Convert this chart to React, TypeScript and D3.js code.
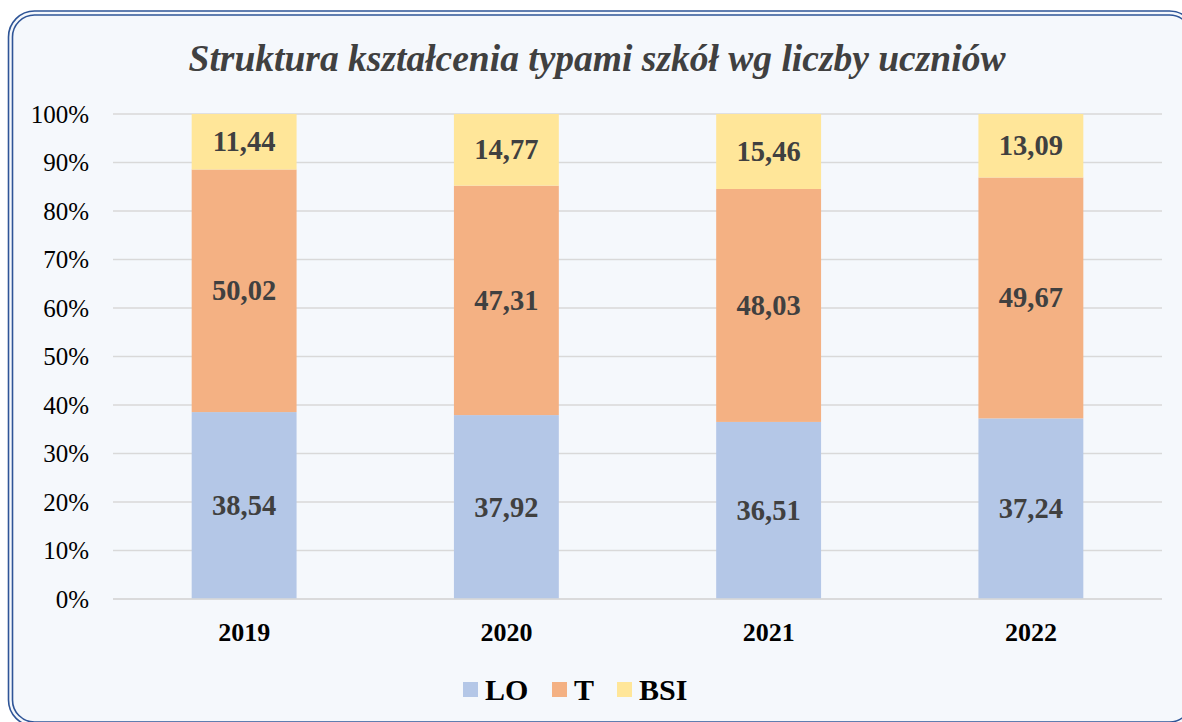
import React from "react";
import * as d3 from "d3";

const categories = ["2019", "2020", "2021", "2022"];
const seriesNames = ["LO", "T", "BSI"];
const loValues = [38.54, 37.92, 36.51, 37.24];
const tValues = [50.02, 47.31, 48.03, 49.67];
const bsiValues = [11.44, 14.77, 15.46, 13.09];
const yTicks = [0, 10, 20, 30, 40, 50, 60, 70, 80, 90, 100];
const colors = ["#B4C7E7", "#F4B183", "#FFE699"];

const W = 1182, H = 722;
const left = 113, right = 1162, top = 114, bottom = 599;
const font = "'Liberation Serif', 'Times New Roman', serif";

export default function App() {
  const x = d3.scaleBand<string>().domain(categories).range([left, right]).paddingInner(0.6).paddingOuter(0.3);
  const y = d3.scaleLinear().domain([0, 100]).range([bottom, top]);
  const rows = categories.map((c, i) => ({ cat: c, LO: loValues[i], T: tValues[i], BSI: bsiValues[i] }));
  const stacked = d3.stack<any>().keys(seriesNames)(rows);
  const fmt = (v: number) => v.toFixed(2).replace(".", ",");

  const legendItems = [
    { name: "LO", x: 463 },
    { name: "T", x: 552 },
    { name: "BSI", x: 617 },
  ];

  return (
    <svg width={W} height={H} style={{ position: "absolute", left: 0, top: 0, display: "block" }}>
      <rect x={0} y={0} width={W} height={H} fill="#ffffff" />
      <rect x={8.5} y={11} width={1187} height={715} rx={26} ry={26} fill="#F5F8FC" stroke="#2F5597" strokeWidth={1.6} />
      <rect x={12.5} y={15} width={1179} height={707} rx={22} ry={22} fill="none" stroke="#2F5597" strokeWidth={1.6} />
      <text x={597} y={71} textAnchor="middle" fontFamily={font} fontSize={37.5} fontWeight="bold" fontStyle="italic" fill="#404040">
        Struktura kształcenia typami szkół wg liczby uczniów
      </text>
      {yTicks.map((t) => (
        <g key={t}>
          <line x1={left} x2={right} y1={y(t)} y2={y(t)} stroke="#D9D9D9" strokeWidth={1.5} />
          <text x={89} y={y(t) + 8.5} textAnchor="end" fontFamily={font} fontSize={25} fill="#000">
            {t}%
          </text>
        </g>
      ))}
      {stacked.map((s, si) => (
        <g key={s.key}>
          {s.map((d, i) => (
            <rect key={i} x={x(categories[i])} width={x.bandwidth()} y={y(d[1])} height={y(d[0]) - y(d[1])} fill={colors[si]} />
          ))}
        </g>
      ))}
      {stacked.map((s, si) => (
        <g key={"l" + s.key}>
          {s.map((d, i) => (
            <text key={i} x={(x(categories[i]) as number) + x.bandwidth() / 2} y={(y(d[0]) + y(d[1])) / 2 + 9.5}
              textAnchor="middle" fontFamily={font} fontSize={28.5} fontWeight="bold" fill="#404040">
              {fmt(d[1] - d[0])}
            </text>
          ))}
        </g>
      ))}
      <line x1={left} x2={right} y1={bottom} y2={bottom} stroke="#D9D9D9" strokeWidth={1.5} />
      {categories.map((c) => (
        <text key={c} x={(x(c) as number) + x.bandwidth() / 2} y={641} textAnchor="middle" fontFamily={font} fontSize={26} fontWeight="bold" fill="#000">
          {c}
        </text>
      ))}
      {legendItems.map((l, i) => (
        <g key={l.name}>
          <rect x={l.x} y={682} width={15} height={15} fill={colors[i]} />
          <text x={l.x + 22} y={700} fontFamily={font} fontSize={30} fontWeight="bold" fill="#000">
            {l.name}
          </text>
        </g>
      ))}
    </svg>
  );
}
